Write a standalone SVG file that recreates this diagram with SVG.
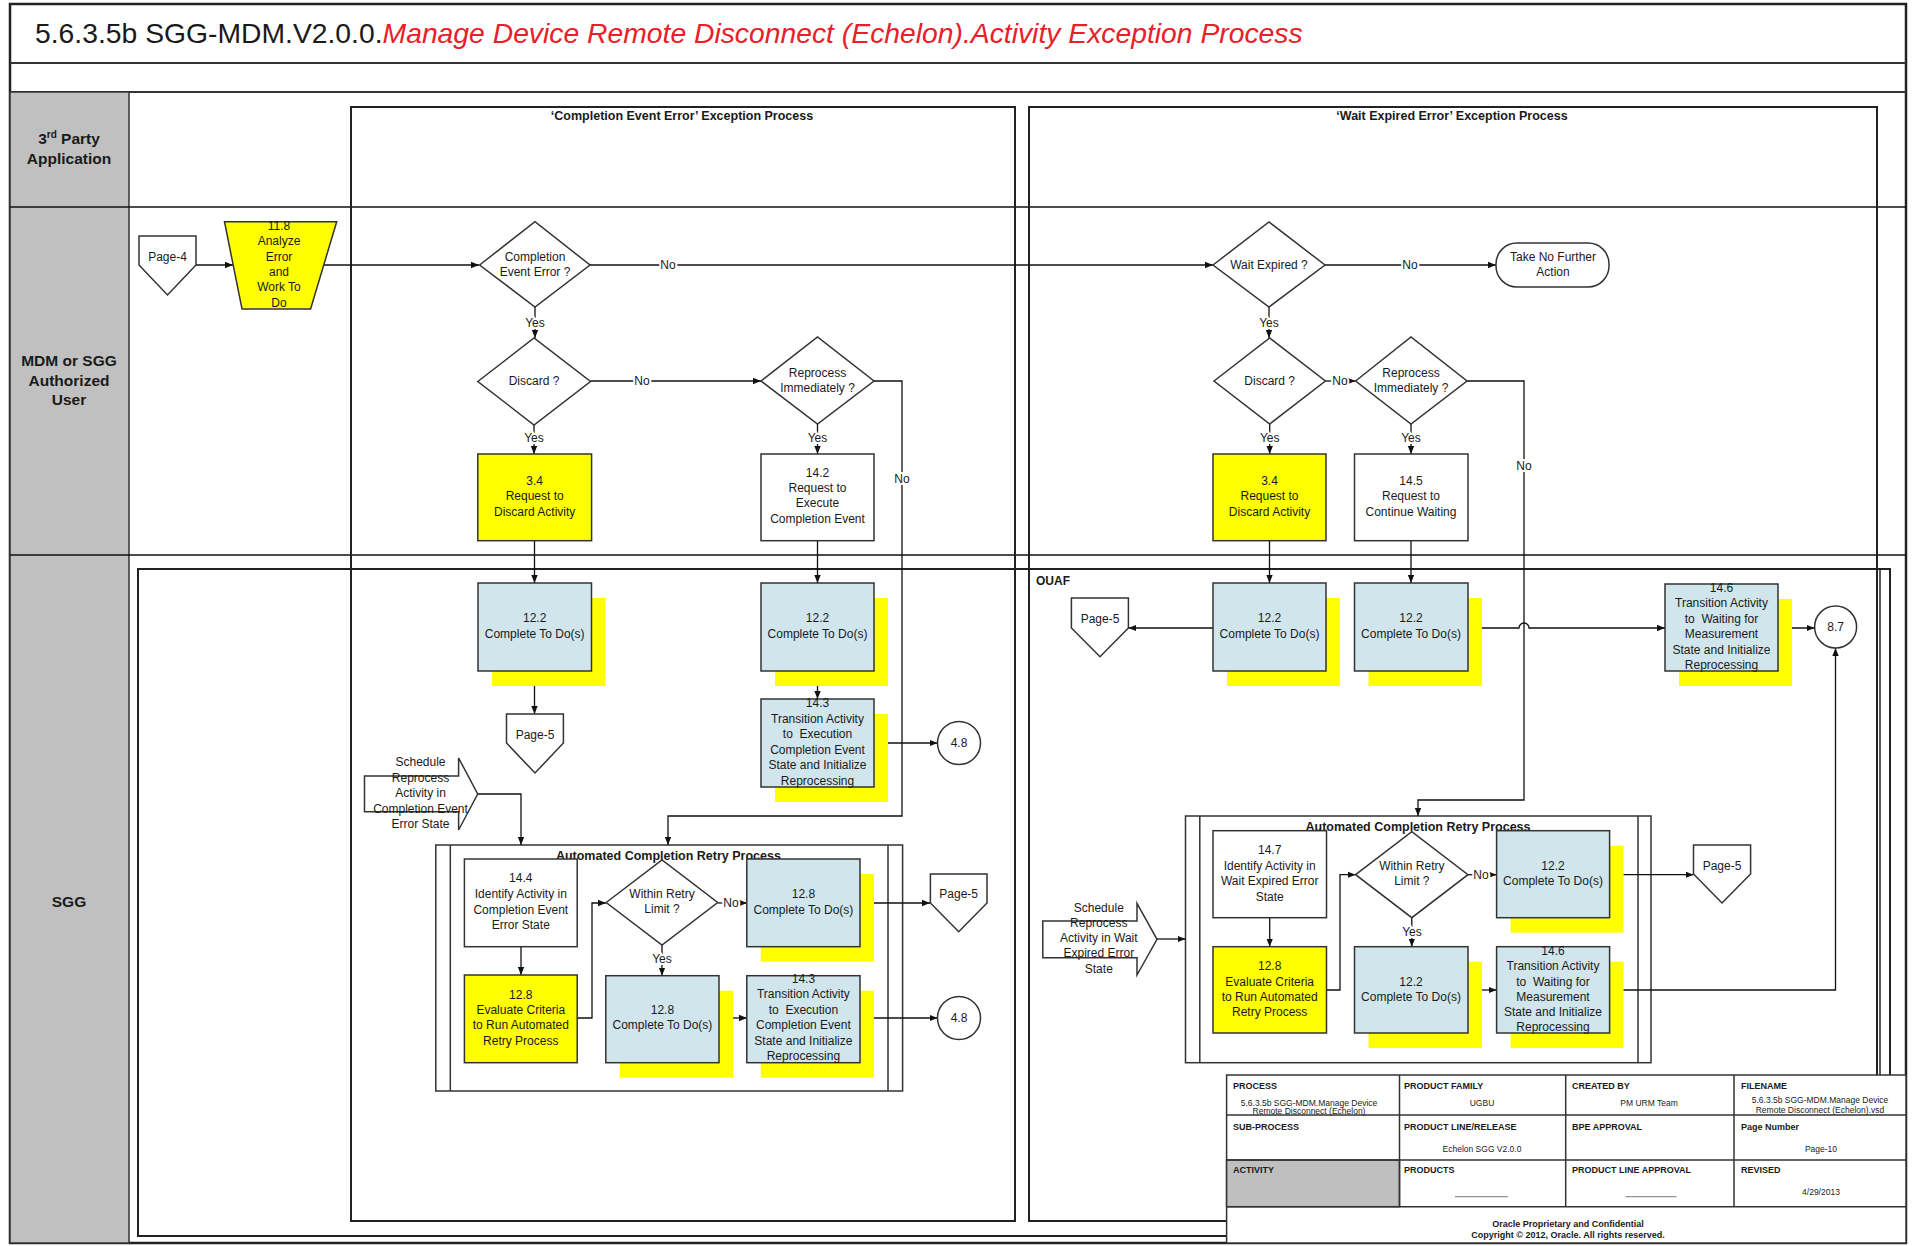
<svg xmlns="http://www.w3.org/2000/svg" width="1915" height="1246" viewBox="0 0 1915 1246">
<defs>
<marker id="ah" viewBox="0 0 10 10" refX="10" refY="5" markerWidth="8" markerHeight="8" markerUnits="userSpaceOnUse" orient="auto"><path d="M0,1 L10,5 L0,9 z" fill="#111"/></marker>
<style>
text{font-family:"Liberation Sans",Arial,sans-serif;fill:#1a1a1a}
.t{font-size:12px;text-anchor:middle}
.lab{font-size:12px;text-anchor:middle;stroke:#fff;stroke-width:4px;paint-order:stroke;stroke-linejoin:round}
.lane{font-size:15.5px;font-weight:bold;text-anchor:middle}
.ft{font-size:12.5px;font-weight:bold;text-anchor:middle}
.box{stroke:#333;stroke-width:1.5}
.y{fill:#FFFF00}
.b{fill:#D0E6EC}
.w{fill:#fff}
.sh{fill:#FFFF00;stroke:none}
.c{stroke:#111;stroke-width:1.3;fill:none}
.fr{fill:none;stroke:#222;stroke-width:2}
.th{font-size:9px;font-weight:bold}
.tv{font-size:8.5px;text-anchor:middle}
</style>
</defs>
<rect x="0" y="0" width="1915" height="1246" fill="#fff"/>
<g id="frame">
<rect x="10" y="4" width="1896" height="1239" fill="none" stroke="#222" stroke-width="2.5"/>
<line x1="10" y1="63" x2="1906" y2="63" stroke="#333" stroke-width="2"/>
<line x1="10" y1="92" x2="1906" y2="92" stroke="#333" stroke-width="2"/>
<text x="35" y="43" font-size="28.3px">5.6.3.5b SGG-MDM.V2.0.0.<tspan fill="#E8202A" style="fill:#E8202A" font-style="italic">Manage Device Remote Disconnect (Echelon).Activity Exception Process</tspan></text>
</g>
<g id="lanes">
<rect x="10" y="92" width="119" height="1151" fill="#C0C0C0" stroke="#333" stroke-width="1.5"/>
<line x1="10" y1="207" x2="1906" y2="207" stroke="#111" stroke-width="1.5"/>
<line x1="10" y1="555" x2="1906" y2="555" stroke="#111" stroke-width="1.5"/>
<text class="lane" x="69" y="144">3<tspan font-size="10px" dy="-6">rd</tspan><tspan dy="6"> Party</tspan></text>
<text class="lane" x="69" y="164">Application</text>
<text class="lane" x="69" y="366">MDM or SGG</text>
<text class="lane" x="69" y="386">Authorized</text>
<text class="lane" x="69" y="405">User</text>
<text class="lane" x="69" y="907">SGG</text>
</g>
<g id="containers">
<rect class="fr" x="351" y="107" width="664" height="1114"/>
<text class="ft" x="682" y="120">‘Completion Event Error’ Exception Process</text>
<rect class="fr" x="1029" y="107" width="848" height="1114"/>
<line x1="1880" y1="569" x2="1880" y2="1236" stroke="#222" stroke-width="1.5"/>
<text class="ft" x="1452" y="120">‘Wait Expired Error’ Exception Process</text>
<rect class="fr" x="138" y="569" width="1752" height="667"/>
<text x="1036" y="585" font-size="12px" font-weight="bold">OUAF</text>
</g>
<g id="retry-left">
<rect x="435.8" y="845" width="466.8" height="246" fill="none" stroke="#333" stroke-width="1.5"/>
<line x1="450.3" y1="845" x2="450.3" y2="1091" stroke="#333" stroke-width="1.5"/>
<line x1="888" y1="845" x2="888" y2="1091" stroke="#333" stroke-width="1.5"/>
<text class="ft" x="668.4" y="860">Automated Completion Retry Process</text>
</g>
<g id="retry-right">
<rect x="1185.5" y="816" width="465.5" height="246.7" fill="none" stroke="#333" stroke-width="1.5"/>
<line x1="1199.8" y1="816" x2="1199.8" y2="1062.7" stroke="#333" stroke-width="1.5"/>
<line x1="1638" y1="816" x2="1638" y2="1062.7" stroke="#333" stroke-width="1.5"/>
<text class="ft" x="1418" y="831">Automated Completion Retry Process</text>
</g>
<g id="connectors" class="c" marker-end="url(#ah)">
<path d="M196,265 H233"/>
<path d="M324,265 H479"/>
<path d="M590,265 H1213"/>
<path d="M1325,265 H1496"/>
<path d="M535,307 V338"/>
<path d="M1269,307 V338"/>
<path d="M590.5,381 H761"/>
<path d="M534,425 V454"/>
<path d="M817.5,424 V454"/>
<path d="M874,381 H902 V816 H668 V845"/>
<path d="M534.5,541 V583"/>
<path d="M817.5,541 V583"/>
<path d="M534.5,671 V714"/>
<path d="M817.5,671 V699"/>
<path d="M874,743 H937.5"/>
<path d="M478,794 H521 V845"/>
<path d="M521,947 V975"/>
<path d="M577,1018 H592 V903 H606"/>
<path d="M718,903 H747"/>
<path d="M860,903 H930"/>
<path d="M662,945 V975.7"/>
<path d="M719,1018 H747"/>
<path d="M860,1018 H937.5"/>
<path d="M1325.4,381 H1355.6"/>
<path d="M1269.7,424 V454"/>
<path d="M1411,424 V454"/>
<path d="M1467,381 H1524 V800 H1418 V816"/>
<path d="M1269.5,541 V583"/>
<path d="M1411,541 V583"/>
<path d="M1213,628 H1128.4"/>
<path d="M1468,628 H1519 a5,5 0 0 1 10,0 H1665"/>
<path d="M1778,628 H1814.5"/>
<path d="M1157,939 H1185.5"/>
<path d="M1269.7,918 V946.7"/>
<path d="M1326.5,990 H1340 V874.7 H1355.6"/>
<path d="M1468,874.7 H1496.6"/>
<path d="M1609.6,874.7 H1693.5"/>
<path d="M1411.8,917.7 V946.7"/>
<path d="M1468,990 H1496.6"/>
<path d="M1609.6,990 H1835.5 V648"/>
</g>
<g id="connector-labels">
<text class="lab" x="668" y="269">No</text>
<text class="lab" x="1410" y="269">No</text>
<text class="lab" x="535" y="327">Yes</text>
<text class="lab" x="1269" y="327">Yes</text>
<text class="lab" x="642" y="385">No</text>
<text class="lab" x="534" y="442">Yes</text>
<text class="lab" x="817.5" y="442">Yes</text>
<text class="lab" x="902" y="483">No</text>
<text class="lab" x="1340" y="385">No</text>
<text class="lab" x="1269.7" y="442">Yes</text>
<text class="lab" x="1411" y="442">Yes</text>
<text class="lab" x="1524" y="470">No</text>
<text class="lab" x="731" y="907">No</text>
<text class="lab" x="662" y="963">Yes</text>
<text class="lab" x="1481" y="879">No</text>
<text class="lab" x="1412" y="936">Yes</text>
</g>
<g id="page4">
<polygon class="box w" points="139,236 196,236 196,265 167.5,295 139,265"/>
<text class="t" x="167.5" y="261">Page-4</text>
</g>
<g id="n11-8">
<polygon class="box y" points="224.5,221.7 336.7,221.7 310.6,309 242,309"/>
<text class="t" x="279" y="230">11.8</text>
<text class="t" x="279" y="245">Analyze</text>
<text class="t" x="279" y="261">Error</text>
<text class="t" x="279" y="276">and</text>
<text class="t" x="279" y="291">Work To</text>
<text class="t" x="279" y="307">Do</text>
</g>
<g id="d-cee">
<polygon class="box w" points="479.6,265 535,221.7 590,265 535,307"/>
<text class="t" x="535" y="261">Completion</text>
<text class="t" x="535" y="276">Event Error ?</text>
</g>
<g id="d-wait">
<polygon class="box w" points="1213,265 1269,222 1325,265 1269,307"/>
<text class="t" x="1269" y="269">Wait Expired ?</text>
</g>
<g id="t-nofurther">
<rect class="box w" x="1496" y="243" width="113" height="44" rx="21" ry="21"/>
<text class="t" x="1553" y="261">Take No Further</text>
<text class="t" x="1553" y="276">Action</text>
</g>
<g id="d-discard-l">
<polygon class="box w" points="477.8,381.5 534,338 590.5,381.5 534,425"/>
<text class="t" x="534" y="385">Discard ?</text>
</g>
<g id="d-reproc-l">
<polygon class="box w" points="761,381 817.5,337 874,381 817.5,424"/>
<text class="t" x="817.5" y="377">Reprocess</text>
<text class="t" x="817.5" y="392">Immediately ?</text>
</g>
<g id="n3-4-l">
<rect class="box y" x="477.8" y="454" width="113.8" height="86.7"/>
<text class="t" x="534.7" y="485">3.4</text>
<text class="t" x="534.7" y="500">Request to</text>
<text class="t" x="534.7" y="516">Discard Activity</text>
</g>
<g id="n14-2">
<rect class="box w" x="761" y="454" width="113" height="86.7"/>
<text class="t" x="817.5" y="477">14.2</text>
<text class="t" x="817.5" y="492">Request to</text>
<text class="t" x="817.5" y="507">Execute</text>
<text class="t" x="817.5" y="523">Completion Event</text>
</g>
<g id="n12-2-la">
<rect class="sh" x="492" y="598" width="113.5" height="88"/>
<rect class="box b" x="478" y="583" width="113.5" height="88"/>
<text class="t" x="534.7" y="622">12.2</text>
<text class="t" x="534.7" y="638">Complete To Do(s)</text>
</g>
<g id="n12-2-lb">
<rect class="sh" x="775" y="598" width="113" height="88"/>
<rect class="box b" x="761" y="583" width="113" height="88"/>
<text class="t" x="817.5" y="622">12.2</text>
<text class="t" x="817.5" y="638">Complete To Do(s)</text>
</g>
<g id="page5-a">
<polygon class="box w" points="506.5,714 563.4,714 563.4,743 535,773 506.5,743"/>
<text class="t" x="535" y="739">Page-5</text>
</g>
<g id="n14-3-a">
<rect class="sh" x="775" y="714" width="113" height="88"/>
<rect class="box b" x="761" y="699" width="113" height="88"/>
<text class="t" x="817.5" y="707">14.3</text>
<text class="t" x="817.5" y="723">Transition Activity</text>
<text class="t" x="817.5" y="738" xml:space="preserve">to  Execution</text>
<text class="t" x="817.5" y="754">Completion Event</text>
<text class="t" x="817.5" y="769">State and Initialize</text>
<text class="t" x="817.5" y="785">Reprocessing</text>
</g>
<g id="c4-8-a">
<circle class="box w" cx="959" cy="743" r="21.5"/>
<text class="t" x="959" y="747">4.8</text>
</g>
<g id="sched-l">
<polygon class="box w" points="364.5,776 458.6,776 458.6,758 477.7,794 458.6,830 458.6,811.7 364.5,811.7"/>
<text class="t" x="420.5" y="766">Schedule</text>
<text class="t" x="420.5" y="782">Reprocess</text>
<text class="t" x="420.5" y="797">Activity in</text>
<text class="t" x="420.5" y="813">Completion Event</text>
<text class="t" x="420.5" y="828">Error State</text>
</g>
<g id="n14-4">
<rect class="box w" x="464.4" y="859" width="112.8" height="87.7"/>
<text class="t" x="520.8" y="882">14.4</text>
<text class="t" x="520.8" y="898">Identify Activity in</text>
<text class="t" x="520.8" y="914">Completion Event</text>
<text class="t" x="520.8" y="929">Error State</text>
</g>
<g id="n12-8-eval-l">
<rect class="box y" x="464.4" y="975" width="112.8" height="87.7"/>
<text class="t" x="520.8" y="999">12.8</text>
<text class="t" x="520.8" y="1014">Evaluate Criteria</text>
<text class="t" x="520.8" y="1029">to Run Automated</text>
<text class="t" x="520.8" y="1045">Retry Process</text>
</g>
<g id="d-retry-l">
<polygon class="box w" points="606.2,902.5 662,860 717.7,902.5 662,945"/>
<text class="t" x="662" y="898">Within Retry</text>
<text class="t" x="662" y="913">Limit ?</text>
</g>
<g id="n12-8-top">
<rect class="sh" x="760.8" y="874" width="113.2" height="87.7"/>
<rect class="box b" x="746.8" y="859" width="113.2" height="87.7"/>
<text class="t" x="803.4" y="898">12.8</text>
<text class="t" x="803.4" y="914">Complete To Do(s)</text>
</g>
<g id="page5-b">
<polygon class="box w" points="930.4,874 987,874 987,903 958.7,931.7 930.4,903"/>
<text class="t" x="958.7" y="898">Page-5</text>
</g>
<g id="n12-8-low">
<rect class="sh" x="619.8" y="990.7" width="113.2" height="87"/>
<rect class="box b" x="605.8" y="975.7" width="113.2" height="87"/>
<text class="t" x="662.4" y="1014">12.8</text>
<text class="t" x="662.4" y="1029">Complete To Do(s)</text>
</g>
<g id="n14-3-b">
<rect class="sh" x="760.8" y="990.7" width="113.2" height="87"/>
<rect class="box b" x="746.8" y="975.7" width="113.2" height="87"/>
<text class="t" x="803.4" y="983">14.3</text>
<text class="t" x="803.4" y="998">Transition Activity</text>
<text class="t" x="803.4" y="1014" xml:space="preserve">to  Execution</text>
<text class="t" x="803.4" y="1029">Completion Event</text>
<text class="t" x="803.4" y="1045">State and Initialize</text>
<text class="t" x="803.4" y="1060">Reprocessing</text>
</g>
<g id="c4-8-b">
<circle class="box w" cx="959" cy="1018" r="21.5"/>
<text class="t" x="959" y="1022">4.8</text>
</g>
<g id="d-discard-r">
<polygon class="box w" points="1214,381 1269.7,338 1325.4,381 1269.7,424"/>
<text class="t" x="1269.7" y="385">Discard ?</text>
</g>
<g id="d-reproc-r">
<polygon class="box w" points="1355.6,381 1411,337 1467,381 1411,424"/>
<text class="t" x="1411" y="377">Reprocess</text>
<text class="t" x="1411" y="392">Immediately ?</text>
</g>
<g id="n3-4-r">
<rect class="box y" x="1213" y="454" width="113" height="86.7"/>
<text class="t" x="1269.5" y="485">3.4</text>
<text class="t" x="1269.5" y="500">Request to</text>
<text class="t" x="1269.5" y="516">Discard Activity</text>
</g>
<g id="n14-5">
<rect class="box w" x="1354.5" y="454" width="113.5" height="86.7"/>
<text class="t" x="1411" y="485">14.5</text>
<text class="t" x="1411" y="500">Request to</text>
<text class="t" x="1411" y="516">Continue Waiting</text>
</g>
<g id="n12-2-ra">
<rect class="sh" x="1227" y="598" width="113" height="88"/>
<rect class="box b" x="1213" y="583" width="113" height="88"/>
<text class="t" x="1269.5" y="622">12.2</text>
<text class="t" x="1269.5" y="638">Complete To Do(s)</text>
</g>
<g id="n12-2-rb">
<rect class="sh" x="1368.5" y="598" width="113.5" height="88"/>
<rect class="box b" x="1354.5" y="583" width="113.5" height="88"/>
<text class="t" x="1411" y="622">12.2</text>
<text class="t" x="1411" y="638">Complete To Do(s)</text>
</g>
<g id="page5-c">
<polygon class="box w" points="1071.4,598 1128.4,598 1128.4,628 1100,656.7 1071.4,628"/>
<text class="t" x="1100" y="623">Page-5</text>
</g>
<g id="n14-6-a">
<rect class="sh" x="1679" y="599" width="113" height="87"/>
<rect class="box b" x="1665" y="584" width="113" height="87"/>
<text class="t" x="1721.5" y="592">14.6</text>
<text class="t" x="1721.5" y="607">Transition Activity</text>
<text class="t" x="1721.5" y="623" xml:space="preserve">to  Waiting for</text>
<text class="t" x="1721.5" y="638">Measurement</text>
<text class="t" x="1721.5" y="654">State and Initialize</text>
<text class="t" x="1721.5" y="669">Reprocessing</text>
</g>
<g id="c8-7">
<circle class="box w" cx="1835.6" cy="627" r="21"/>
<text class="t" x="1835.6" y="631">8.7</text>
</g>
<g id="sched-r">
<polygon class="box w" points="1042.8,921 1137,921 1137,903.3 1157,939.3 1137,975 1137,957.7 1042.8,957.7"/>
<text class="t" x="1098.8" y="912">Schedule</text>
<text class="t" x="1098.8" y="927">Reprocess</text>
<text class="t" x="1098.8" y="942">Activity in Wait</text>
<text class="t" x="1098.8" y="957">Expired Error</text>
<text class="t" x="1098.8" y="973">State</text>
</g>
<g id="n14-7">
<rect class="box w" x="1213" y="830.7" width="113.5" height="87"/>
<text class="t" x="1269.7" y="854">14.7</text>
<text class="t" x="1269.7" y="870">Identify Activity in</text>
<text class="t" x="1269.7" y="885">Wait Expired Error</text>
<text class="t" x="1269.7" y="901">State</text>
</g>
<g id="n12-8-eval-r">
<rect class="box y" x="1213" y="946.7" width="113.5" height="86.3"/>
<text class="t" x="1269.7" y="970">12.8</text>
<text class="t" x="1269.7" y="986">Evaluate Criteria</text>
<text class="t" x="1269.7" y="1001">to Run Automated</text>
<text class="t" x="1269.7" y="1016">Retry Process</text>
</g>
<g id="d-retry-r">
<polygon class="box w" points="1355.6,874.7 1411.8,831.7 1468,874.7 1411.8,917.7"/>
<text class="t" x="1411.8" y="870">Within Retry</text>
<text class="t" x="1411.8" y="885">Limit ?</text>
</g>
<g id="n12-2-rt">
<rect class="sh" x="1510.6" y="845.7" width="113" height="87"/>
<rect class="box b" x="1496.6" y="830.7" width="113" height="87"/>
<text class="t" x="1553" y="870">12.2</text>
<text class="t" x="1553" y="885">Complete To Do(s)</text>
</g>
<g id="page5-d">
<polygon class="box w" points="1693.5,845 1750.6,845 1750.6,874 1722,903 1693.5,874"/>
<text class="t" x="1722" y="870">Page-5</text>
</g>
<g id="n12-2-rl">
<rect class="sh" x="1368.5" y="961.7" width="113.5" height="86.3"/>
<rect class="box b" x="1354.5" y="946.7" width="113.5" height="86.3"/>
<text class="t" x="1411" y="986">12.2</text>
<text class="t" x="1411" y="1001">Complete To Do(s)</text>
</g>
<g id="n14-6-b">
<rect class="sh" x="1510.6" y="961.7" width="113" height="86.3"/>
<rect class="box b" x="1496.6" y="946.7" width="113" height="86.3"/>
<text class="t" x="1553" y="955">14.6</text>
<text class="t" x="1553" y="970">Transition Activity</text>
<text class="t" x="1553" y="986" xml:space="preserve">to  Waiting for</text>
<text class="t" x="1553" y="1001">Measurement</text>
<text class="t" x="1553" y="1016">State and Initialize</text>
<text class="t" x="1553" y="1031">Reprocessing</text>
</g>
<g id="footer">
<rect x="1226.6" y="1075" width="679.4" height="168" fill="#fff" stroke="#333" stroke-width="1.5"/>
<rect x="1226.6" y="1160" width="172.9" height="46.7" fill="#BFBFBF" stroke="#333" stroke-width="1.5"/>
<g stroke="#333" stroke-width="1.5">
<line x1="1226.6" y1="1115" x2="1906" y2="1115"/>
<line x1="1226.6" y1="1160" x2="1906" y2="1160"/>
<line x1="1226.6" y1="1206.7" x2="1906" y2="1206.7"/>
<line x1="1399.5" y1="1075" x2="1399.5" y2="1206.7"/>
<line x1="1565.7" y1="1075" x2="1565.7" y2="1206.7"/>
<line x1="1734" y1="1075" x2="1734" y2="1206.7"/>
</g>
<g stroke="#555" stroke-width="0.8">
<line x1="1455" y1="1196.7" x2="1508" y2="1196.7"/>
<line x1="1625.6" y1="1196.7" x2="1676.6" y2="1196.7"/>
</g>
<text class="th" x="1233" y="1088.5">PROCESS</text>
<text class="th" x="1404" y="1088.5">PRODUCT FAMILY</text>
<text class="th" x="1572" y="1088.5">CREATED BY</text>
<text class="th" x="1741" y="1088.5">FILENAME</text>
<text class="tv" x="1309" y="1105.5">5.6.3.5b SGG-MDM.Manage Device</text>
<text class="tv" x="1309" y="1114">Remote Disconnect (Echelon)</text>
<text class="tv" x="1482" y="1106">UGBU</text>
<text class="tv" x="1649" y="1106">PM URM Team</text>
<text class="tv" x="1820" y="1103">5.6.3.5b SGG-MDM.Manage Device</text>
<text class="tv" x="1820" y="1113">Remote Disconnect (Echelon).vsd</text>
<text class="th" x="1233" y="1130">SUB-PROCESS</text>
<text class="th" x="1404" y="1130">PRODUCT LINE/RELEASE</text>
<text class="th" x="1572" y="1130">BPE APPROVAL</text>
<text class="th" x="1741" y="1130">Page Number</text>
<text class="tv" x="1482" y="1152">Echelon SGG V2.0.0</text>
<text class="tv" x="1821" y="1152">Page-10</text>
<text class="th" x="1233" y="1173">ACTIVITY</text>
<text class="th" x="1404" y="1173">PRODUCTS</text>
<text class="th" x="1572" y="1173">PRODUCT LINE APPROVAL</text>
<text class="th" x="1741" y="1173">REVISED</text>
<text class="tv" x="1821" y="1195">4/29/2013</text>
<text class="th" x="1568" y="1226.5" text-anchor="middle">Oracle Proprietary and Confidential</text>
<text class="th" x="1568" y="1238" text-anchor="middle">Copyright © 2012, Oracle. All rights reserved.</text>
</g>
</svg>
